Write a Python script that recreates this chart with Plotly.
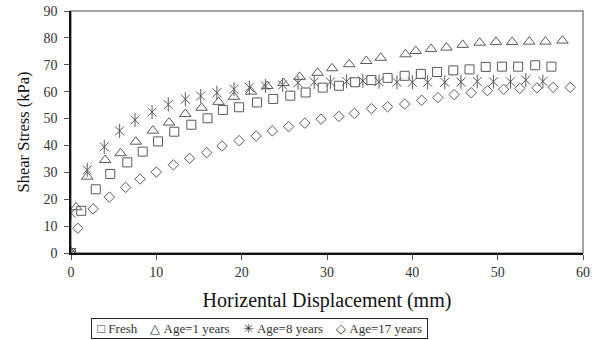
import plotly.graph_objects as go

fresh_x = [0, 1.2, 2.9, 4.6, 6.6, 8.4, 10.2, 12.1, 14.1, 16.0, 17.8, 19.7, 21.8, 23.7, 25.7, 27.5, 29.5, 31.4, 33.3, 35.2, 37.1, 39.1, 41.0, 42.9, 44.8, 46.7, 48.6, 50.5, 52.4, 54.4, 56.3]
fresh_y = [0, 15.7, 23.7, 29.4, 33.7, 37.7, 41.5, 45.1, 47.7, 50.1, 53.2, 54.2, 56.0, 57.3, 58.5, 59.7, 61.5, 62.2, 63.5, 64.3, 65.1, 65.9, 66.6, 67.3, 67.9, 68.3, 69.2, 69.3, 69.3, 69.8, 69.3]

age1_x = [0, 0.6, 1.9, 4.0, 5.8, 7.6, 9.6, 11.5, 13.4, 15.3, 17.3, 19.1, 21.1, 23.0, 24.9, 26.8, 28.9, 30.6, 32.6, 34.6, 36.3, 39.2, 40.4, 42.2, 44.0, 45.9, 47.9, 49.8, 51.7, 53.7, 55.6, 57.6]
age1_y = [0, 17.0, 28.4, 34.6, 37.1, 41.4, 45.5, 48.5, 51.7, 54.0, 56.2, 58.1, 60.0, 62.1, 63.2, 65.5, 67.0, 68.7, 70.2, 71.4, 72.6, 73.9, 75.1, 75.9, 76.4, 77.4, 78.2, 78.5, 78.5, 78.6, 78.6, 79.0]

age8_x = [0, 0.0, 1.9, 3.9, 5.7, 7.5, 9.5, 11.4, 13.4, 15.2, 17.1, 19.1, 20.9, 22.8, 24.8, 26.6, 28.5, 30.4, 32.3, 34.2, 36.1, 38.2, 40.0, 41.8, 43.8, 45.7, 47.6, 49.5, 51.5, 53.3, 55.3]
age8_y = [0, 14.8, 30.9, 39.5, 45.4, 49.5, 52.4, 55.2, 57.2, 58.4, 59.6, 60.9, 61.6, 62.1, 62.5, 63.3, 63.6, 63.6, 63.8, 64.0, 63.7, 63.5, 63.5, 63.5, 63.5, 63.6, 63.8, 63.7, 63.7, 64.3, 63.8]

age17_x = [0, 0.8, 2.6, 4.5, 6.4, 8.1, 10.0, 12.0, 13.9, 15.9, 17.7, 19.7, 21.7, 23.6, 25.5, 27.4, 29.3, 31.4, 33.2, 35.2, 37.1, 39.1, 41.1, 43.0, 44.9, 46.9, 48.8, 50.7, 52.6, 54.6, 56.5, 58.5]
age17_y = [0, 9.2, 16.4, 20.8, 24.4, 27.5, 30.1, 32.8, 35.2, 37.3, 39.8, 41.8, 43.5, 45.4, 47.0, 48.3, 49.8, 50.8, 51.9, 53.7, 54.4, 55.4, 56.8, 57.8, 58.9, 59.6, 60.4, 60.9, 61.2, 61.4, 61.6, 61.6]

series_names = ["Fresh", "Age=1 years", "Age=8 years", "Age=17 years"]
legend_glyphs = ["\u25a1", "\u25b3", "\u2733", "\u25c7"]
y_title = "Shear Stress (kPa)"
x_title = "Horizental Displacement (mm)"

MC = "#5a5a5a"
FONT = "Liberation Serif"

def mk(sym, sz):
    return dict(symbol=sym, size=sz, color=MC, line=dict(color=MC, width=1))

fig = go.Figure()
fig.add_trace(go.Scatter(x=fresh_x, y=fresh_y, mode="markers", name=series_names[0], marker=mk("square-open", 9)))
fig.add_trace(go.Scatter(x=age1_x, y=age1_y, mode="markers", name=series_names[1], marker=mk("triangle-up-open", 10)))
fig.add_trace(go.Scatter(x=age8_x, y=age8_y, mode="markers", name=series_names[2], marker=mk("x-thin-open", 9)))
fig.add_trace(go.Scatter(x=age8_x, y=age8_y, mode="markers", name=series_names[2], showlegend=False, marker=mk("line-ns-open", 10)))
fig.add_trace(go.Scatter(x=age17_x, y=age17_y, mode="markers", name=series_names[3], marker=mk("diamond-open", 8)))

fig.add_shape(type="rect", xref="paper", yref="paper", x0=0, y0=0, x1=1, y1=1,
              line=dict(color="#888888", width=1.5), layer="below")

gap = "\u00a0" * 4
legend_text = "\u00a0" + gap.join(g + "\u00a0" + n for g, n in zip(legend_glyphs, series_names)) + "\u00a0"
fig.add_annotation(
    text=legend_text, xref="paper", yref="paper", x=0.368, y=-0.31,
    xanchor="center", yanchor="middle", showarrow=False,
    font=dict(family=FONT, size=13, color="#333333"),
    bordercolor="#222222", borderwidth=1, borderpad=2, bgcolor="white",
)

fig.update_layout(
    width=598, height=340,
    margin=dict(l=71, r=15, t=11, b=87),
    plot_bgcolor="white", paper_bgcolor="white",
    font=dict(family=FONT, color="#333333", size=14),
    showlegend=False,
)
fig.update_xaxes(
    range=[0, 60], dtick=10, showgrid=False, zeroline=False, automargin=False,
    showline=True, linecolor="#111111", linewidth=1.5,
    ticks="outside", ticklen=5, tickcolor="#555555",
    tickfont=dict(family=FONT, size=14, color="#333333"),
    title=dict(text=x_title, font=dict(family=FONT, size=20, color="#111111"), standoff=14),
)
fig.update_yaxes(
    range=[0, 90], dtick=10, showgrid=False, zeroline=False, automargin=False,
    showline=True, linecolor="#111111", linewidth=1.5,
    ticks="outside", ticklen=5, tickcolor="#555555", ticklabelstandoff=4,
    tickfont=dict(family=FONT, size=14, color="#333333"),
    title=dict(text=y_title, font=dict(family=FONT, size=16.5, color="#111111"), standoff=10),
)

fig.write_html("out.html")
